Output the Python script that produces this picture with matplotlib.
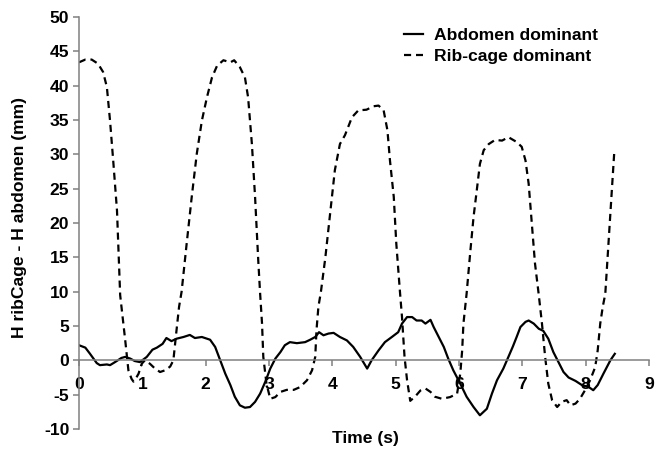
import matplotlib
matplotlib.use("Agg")
import matplotlib.pyplot as plt

plt.rcParams['font.family'] = ['Liberation Sans', 'DejaVu Sans']
plt.rcParams['font.weight'] = 'bold'

abd_t = [0, 0.1, 0.17, 0.28, 0.33, 0.44, 0.49, 0.57, 0.67, 0.73, 0.81, 0.88, 0.96, 1.02, 1.07,
         1.16, 1.23, 1.32, 1.38, 1.46, 1.54, 1.65, 1.75, 1.83, 1.94, 2.07, 2.15, 2.23, 2.31,
         2.39, 2.46, 2.54, 2.62, 2.70, 2.78, 2.86, 2.94, 3.02, 3.10, 3.18, 3.25, 3.33, 3.44,
         3.57, 3.65, 3.73, 3.79, 3.86, 3.94, 4.02, 4.12, 4.23, 4.33, 4.44, 4.55, 4.62, 4.73,
         4.83, 4.94, 5.04, 5.10, 5.18, 5.26, 5.33, 5.41, 5.47, 5.55, 5.60, 5.68, 5.76, 5.83,
         5.91, 6.02, 6.12, 6.23, 6.33, 6.44, 6.52, 6.60, 6.70, 6.78, 6.85, 6.91, 6.97, 7.05,
         7.10, 7.18, 7.26, 7.33, 7.41, 7.49, 7.57, 7.65, 7.73, 7.84, 7.94, 8.05, 8.12, 8.19,
         8.28, 8.39, 8.46]
abd_h = [2.2, 1.85, 1.0, -0.4, -0.7, -0.6, -0.7, -0.25, 0.35, 0.5, 0.25, -0.1, -0.25, 0.15, 0.5,
         1.55, 1.85, 2.4, 3.25, 2.8, 3.15, 3.4, 3.7, 3.25, 3.4, 3.0, 1.95, 0.0, -1.95,
         -3.6, -5.3, -6.55, -6.9, -6.8, -6.05, -4.85, -3.15, -1.2, 0.25, 1.2, 2.2, 2.65, 2.5,
         2.65, 3.0, 3.4, 4.1, 3.65, 3.9, 4.0, 3.4, 2.9, 1.95, 0.5, -1.2, 0.0, 1.45,
         2.65, 3.4, 4.1, 5.35, 6.3, 6.3, 5.8, 5.8, 5.35, 5.9, 4.85, 3.4, 1.95, 0.25,
         -1.45, -3.4, -5.3, -6.8, -8.0, -7.05, -4.85, -2.9, -1.2, 0.5, 2.0, 3.4, 4.85, 5.6,
         5.8, 5.35, 4.6, 4.3, 3.15, 1.2, -0.25, -1.7, -2.5, -3.0, -3.6, -3.9, -4.35, -3.6,
         -1.95, 0.0, 0.95]

rib_t = [0, 0.1, 0.2, 0.3, 0.38, 0.44, 0.49, 0.54, 0.60, 0.65, 0.73, 0.78, 0.83, 0.86, 0.90,
         0.94, 0.99, 1.04, 1.12, 1.20, 1.28, 1.36, 1.44, 1.49, 1.54, 1.58, 1.62, 1.70, 1.78,
         1.86, 1.94, 2.02, 2.10, 2.18, 2.28, 2.39, 2.45, 2.54, 2.62, 2.67, 2.73, 2.78, 2.83,
         2.86, 2.89, 2.91, 2.96, 3.02, 3.10, 3.18, 3.28, 3.39, 3.49, 3.60, 3.68, 3.73, 3.75,
         3.78, 3.82, 3.89, 3.97, 4.04, 4.12, 4.20, 4.31, 4.41, 4.54, 4.65, 4.73, 4.81, 4.87,
         4.91, 4.97, 5.01, 5.07, 5.10, 5.14, 5.18, 5.23, 5.31, 5.39, 5.47, 5.55, 5.62, 5.73,
         5.86, 5.97, 6.02, 6.05, 6.07, 6.12, 6.18, 6.23, 6.28, 6.33, 6.39, 6.47, 6.57, 6.68,
         6.78, 6.91, 6.99, 7.05, 7.10, 7.15, 7.20, 7.26, 7.31, 7.36, 7.41, 7.47, 7.55, 7.62,
         7.70, 7.76, 7.84, 7.91, 7.99, 8.07, 8.15, 8.19, 8.23, 8.27, 8.31, 8.36, 8.41, 8.45]
rib_h = [43.4, 43.8, 43.8, 43.2, 42.0, 39.8, 34.9, 29.1, 21.8, 9.5, 2.9, -1.45, -2.7, -3.1, -2.6,
         -1.95, -0.5, 0.0, -0.5, -1.2, -1.7, -1.45, -0.9, 0.0, 4.4, 7.8, 10.0, 17.0, 23.8,
         30.1, 34.9, 38.3, 41.2, 42.9, 43.7, 43.4, 43.7, 42.7, 41.2, 38.3, 31.5, 23.8, 14.6,
         9.7, 5.35, 0.5, -3.4, -5.6, -5.35, -4.6, -4.3, -4.3, -3.9, -2.9, -1.45, 0.5, 4.4,
         7.8, 10.0, 15.0, 21.8, 27.7, 31.5, 32.8, 35.4, 36.4, 36.5, 37.0, 37.1, 36.4, 33.5,
         29.1, 23.8, 17.0, 9.7, 6.3, 0.5, -2.9, -5.9, -5.25, -4.4, -4.1, -4.6, -5.3, -5.6,
         -5.35, -4.85, -1.95, 1.45, 5.35, 9.7, 16.0, 20.9, 24.7, 28.6, 30.6, 31.5, 32.1, 32.0,
         32.5, 31.8, 31.1, 29.1, 25.7, 19.9, 14.1, 9.5, 5.35, 0.5, -3.4, -5.8, -6.8, -6.05,
         -5.8, -6.55, -6.3, -5.6, -4.35, -2.9, -1.0, 1.45, 5.35, 7.8, 9.7, 17.0, 24.3, 30.1]

x_ticks = list(range(0, 10))
y_ticks = list(range(-10, 55, 5))

FS = 12.6

fig = plt.figure(figsize=(6.62, 4.51), dpi=100)
ax = fig.add_axes([79/662, 1 - 429/451, 570/662, 412/451])

ax.plot(abd_t, abd_h, color='black', lw=1.6, label='Abdomen dominant')
ax.plot(rib_t, rib_h, color='black', lw=1.6, linestyle=(0, (3.2, 2.2)), label='Rib-cage dominant')

ax.set_xlim(0, 9)
ax.set_ylim(-10, 50)
ax.set_xticks(x_ticks)
ax.set_yticks(y_ticks)
ax.set_xticklabels([str(v) for v in x_ticks])
ax.set_yticklabels([str(v) for v in y_ticks])

for s in ['top', 'right']:
    ax.spines[s].set_visible(False)
ax.spines['bottom'].set_position(('data', 0))
for s in ['bottom', 'left']:
    ax.spines[s].set_color('#808080')
    ax.spines[s].set_linewidth(1.1)
ax.tick_params(axis='both', colors='#808080', labelcolor='black', labelsize=FS,
               width=1.1, length=4, direction='out')
ax.tick_params(axis='x', pad=8)
ax.tick_params(axis='y', pad=3)
for lab in ax.get_xticklabels() + ax.get_yticklabels():
    lab.set_fontweight('bold')

fig.text(365/662, 1 - 438/451, 'Time (s)', ha='center', va='center', fontsize=FS, fontweight='bold')
fig.text(20/662, 1 - 218/451, 'H ribCage - H abdomen (mm)', ha='center', va='center',
         rotation=90, fontsize=FS, fontweight='bold')

leg = ax.legend(loc='upper left', bbox_to_anchor=(0.552, 1.0), frameon=False,
                prop={'weight': 'bold', 'size': FS}, handlelength=1.1, handletextpad=0.6,
                labelspacing=0.35, borderaxespad=0.2)

fig.savefig('out.png', dpi=100)
